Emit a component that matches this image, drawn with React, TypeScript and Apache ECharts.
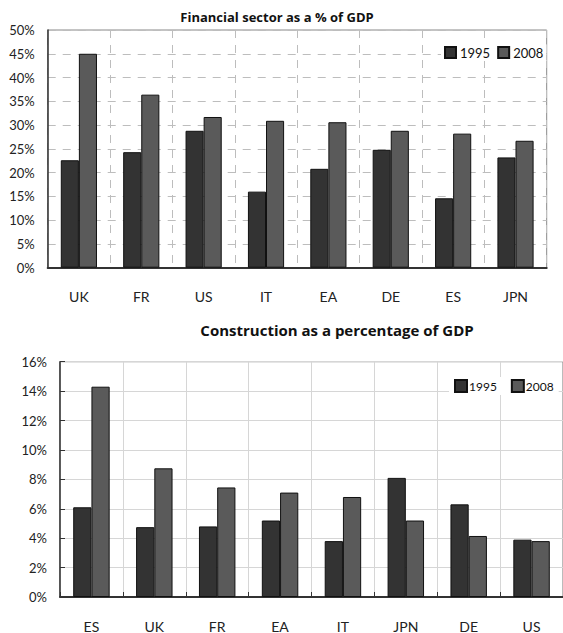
import React, { useEffect, useRef } from "react";
import * as echarts from "echarts";

// Financial sector share of GDP
const finCategories = ["UK", "FR", "US", "IT", "EA", "DE", "ES", "JPN"];
const fin1995 = [22.6, 24.3, 28.8, 16.0, 20.8, 24.8, 14.6, 23.2];
const fin2008 = [45.0, 36.4, 31.7, 30.9, 30.6, 28.8, 28.2, 26.7];

// Construction share of GDP
const conCategories = ["ES", "UK", "FR", "EA", "IT", "JPN", "DE", "US"];
const con1995 = [6.1, 4.75, 4.8, 5.2, 3.8, 8.1, 6.3, 3.9];
const con2008 = [14.3, 8.75, 7.45, 7.1, 6.8, 5.2, 4.15, 3.8];

const years = ["1995", "2008"];
const finTicks = { min: 0, max: 50, interval: 5 };
const conTicks = { min: 0, max: 16, interval: 2 };

const FONT = "Lato, 'Open Sans', sans-serif";
const TITLE_FONT = "'Open Sans', Lato, sans-serif";
const DARK = "#333333";
const MID = "#5a5a5a";

export default function App() {
  const ref = useRef<HTMLDivElement>(null);

  useEffect(() => {
    if (!ref.current) return;
    const chart = echarts.init(ref.current, undefined, { renderer: "svg" });

    const barStyle = (color: string) => ({
      color,
      borderColor: "#111",
      borderWidth: 1,
    });

    const axisText = { color: "#222", fontFamily: FONT, fontSize: 13 };

    chart.setOption({
      animation: false,
      backgroundColor: "#ffffff",
      graphic: [
        {
          type: "text",
          x: 277,
          y: 17,
          style: {
            text: "Financial sector as a % of GDP",
            textAlign: "center",
            textVerticalAlign: "middle",
            font: `bold 13px ${TITLE_FONT}`,
            fill: "#111",
          },
        },
        {
          type: "text",
          x: 337,
          y: 330,
          style: {
            text: "Construction as a percentage of GDP",
            textAlign: "center",
            textVerticalAlign: "middle",
            font: `bold 15px ${TITLE_FONT}`,
            fill: "#111",
          },
        },
      ],
      legend: [
        {
          data: years,
          left: 441,
          top: 44,
          padding: [2, 3],
          backgroundColor: "#ffffff",
          itemWidth: 11,
          itemHeight: 11,
          itemGap: 7,
          icon: "rect",
          textStyle: { color: "#111", fontFamily: FONT, fontSize: 13, padding: [0, 0, 0, -1] },
          selectedMode: false,
        },
        {
          data: years,
          left: 449,
          top: 377,
          padding: [2, 5],
          backgroundColor: "#ffffff",
          itemWidth: 12,
          itemHeight: 12,
          itemGap: 14,
          icon: "rect",
          textStyle: { color: "#111", fontFamily: FONT, fontSize: 12, padding: [0, 0, 0, -3] },
          selectedMode: false,
        },
      ],
      grid: [
        {
          left: 47.7,
          top: 30,
          width: 499,
          height: 237.7,
          show: true,
          borderColor: "#888",
          borderWidth: 1,
        },
        {
          left: 60,
          top: 361.7,
          width: 512,
          height: 235.6,
          show: true,
          borderColor: "#777",
          borderWidth: 1,
        },
      ],
      xAxis: [
        {
          type: "category",
          gridIndex: 0,
          data: finCategories,
          axisLine: { lineStyle: { color: "#333", width: 2 } },
          axisTick: { show: false },
          axisLabel: { ...axisText, fontSize: 14, margin: 22 },
          splitLine: {
            show: true,
            interval: 0,
            lineStyle: { color: "#bdbdbd", type: [8, 7], width: 1 },
          },
        },
        {
          type: "category",
          gridIndex: 1,
          data: conCategories,
          axisLine: { lineStyle: { color: "#333", width: 2 } },
          axisTick: { show: true, inside: true, length: 5, lineStyle: { color: "#333" } },
          axisLabel: { ...axisText, fontSize: 14, margin: 22 },
          splitLine: {
            show: true,
            interval: 0,
            lineStyle: { color: "#d6d6d6", width: 1 },
          },
        },
      ],
      yAxis: [
        {
          type: "value",
          gridIndex: 0,
          ...finTicks,
          axisLine: { show: true, lineStyle: { color: "#333", width: 1.5 } },
          axisTick: { show: false },
          axisLabel: { ...axisText, margin: 13, formatter: "{value}%" },
          splitLine: {
            show: true,
            lineStyle: { color: "#bdbdbd", type: [8, 7], width: 1 },
          },
        },
        {
          type: "value",
          gridIndex: 1,
          ...conTicks,
          axisLine: { show: true, lineStyle: { color: "#333", width: 1.5 } },
          axisTick: { show: true, inside: true, length: 5, lineStyle: { color: "#333" } },
          axisLabel: { ...axisText, margin: 13, formatter: "{value}%" },
          splitLine: {
            show: true,
            lineStyle: { color: "#d6d6d6", width: 1 },
          },
        },
      ],
      series: [
        {
          name: years[0],
          type: "bar",
          xAxisIndex: 0,
          yAxisIndex: 0,
          data: fin1995,
          barGap: "0%",
          barCategoryGap: "42%",
          itemStyle: barStyle(DARK),
        },
        {
          name: years[1],
          type: "bar",
          xAxisIndex: 0,
          yAxisIndex: 0,
          data: fin2008,
          barGap: "0%",
          barCategoryGap: "42%",
          itemStyle: barStyle(MID),
        },
        {
          name: years[0],
          type: "bar",
          xAxisIndex: 1,
          yAxisIndex: 1,
          data: con1995,
          barGap: "0%",
          barCategoryGap: "42%",
          itemStyle: barStyle(DARK),
        },
        {
          name: years[1],
          type: "bar",
          xAxisIndex: 1,
          yAxisIndex: 1,
          data: con2008,
          barGap: "0%",
          barCategoryGap: "42%",
          itemStyle: barStyle(MID),
        },
      ],
    });

    return () => chart.dispose();
  }, []);

  return (
    <div
      ref={ref}
      style={{ position: "absolute", left: 0, top: 0, width: 563, height: 633 }}
    />
  );
}
